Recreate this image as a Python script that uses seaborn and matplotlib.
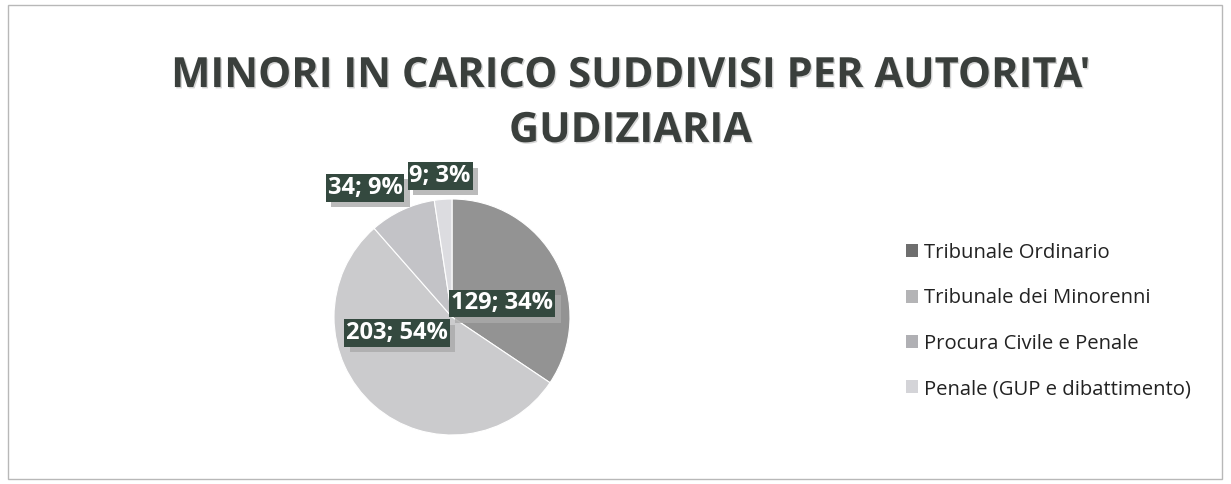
import matplotlib
matplotlib.use("Agg")
import matplotlib.pyplot as plt
import matplotlib.patheffects as pe
from matplotlib.patches import Rectangle, Patch
import numpy as np
import seaborn as sns

# dati
categorie = ["Tribunale Ordinario", "Tribunale dei Minorenni",
             "Procura Civile e Penale", "Penale (GUP e dibattimento)"]
valori = [129, 203, 34, 9]
percentuali = [34, 54, 9, 3]
titolo = "MINORI IN CARICO SUDDIVISI PER AUTORITA'\nGUDIZIARIA"

sns.set_theme(style="white")
plt.rcParams['font.family'] = ['Open Sans', 'DejaVu Sans']

colori = ["#939393", "#cbcbcd", "#c3c3c7", "#dcdce0"]

W, H = 1231, 484
fig = plt.figure(figsize=(W / 100, H / 100), dpi=100)
fig.patch.set_facecolor("white")

# bordo del grafico
fig.patches.append(Rectangle((8 / W, 5 / H), 1214 / W, 474 / H, transform=fig.transFigure,
                             fill=False, edgecolor="#b8b8b8", linewidth=1))

# titolo
fig.text(0.512, 1 - 104 / H, titolo, ha="center", va="center", fontsize=30, fontweight="bold",
         color="#3a3f3c", linespacing=1.45,
         path_effects=[pe.withSimplePatchShadow(offset=(1, -1), shadow_rgbFace="#aaaaaa", alpha=0.5)])

# torta
cx, cy, r = 452, 317, 118
ax = fig.add_axes([(cx - r) / W, (H - cy - r) / H, 2 * r / W, 2 * r / H])
wedges, _ = ax.pie(valori, colors=colori, startangle=90, counterclock=False,
                   wedgeprops=dict(edgecolor="white", linewidth=0.8))
ax.set_xlim(-1, 1)
ax.set_ylim(-1, 1)
ax.set_aspect("equal")
ax.axis("off")

# etichette (distanza dal centro, correzione angolo)
pos_etichette = [(0.44, -13), (0.485, -32.5), (1.32, 9), (1.2, 0.5)]
for w, v, p, (d, da) in zip(wedges, valori, percentuali, pos_etichette):
    ang = np.deg2rad((w.theta1 + w.theta2) / 2 + da)
    t = ax.text(d * np.cos(ang), d * np.sin(ang), f"{v}; {p}%", ha="center", va="center",
                fontsize=17, fontweight="bold", color="white", clip_on=False,
                bbox=dict(boxstyle="square,pad=0.08", facecolor="#34493f", edgecolor="none"))
    t.get_bbox_patch().set_path_effects(
        [pe.withSimplePatchShadow(offset=(4, -4), shadow_rgbFace="#aaaaaa", alpha=0.8)])

# legenda
handles = [Patch(facecolor=c, edgecolor="none") for c in ["#6e6e6e", "#b4b4b6", "#b0b0b4", "#d4d4d8"]]
fig.legend(handles, categorie, loc="center left", bbox_to_anchor=(888 / W, 1 - 321 / H),
           frameon=False, fontsize=14.6, labelspacing=1.25, handlelength=0.6, handleheight=0.6,
           handletextpad=0.3, labelcolor="#222222")

fig.savefig("out.png", dpi=100)
